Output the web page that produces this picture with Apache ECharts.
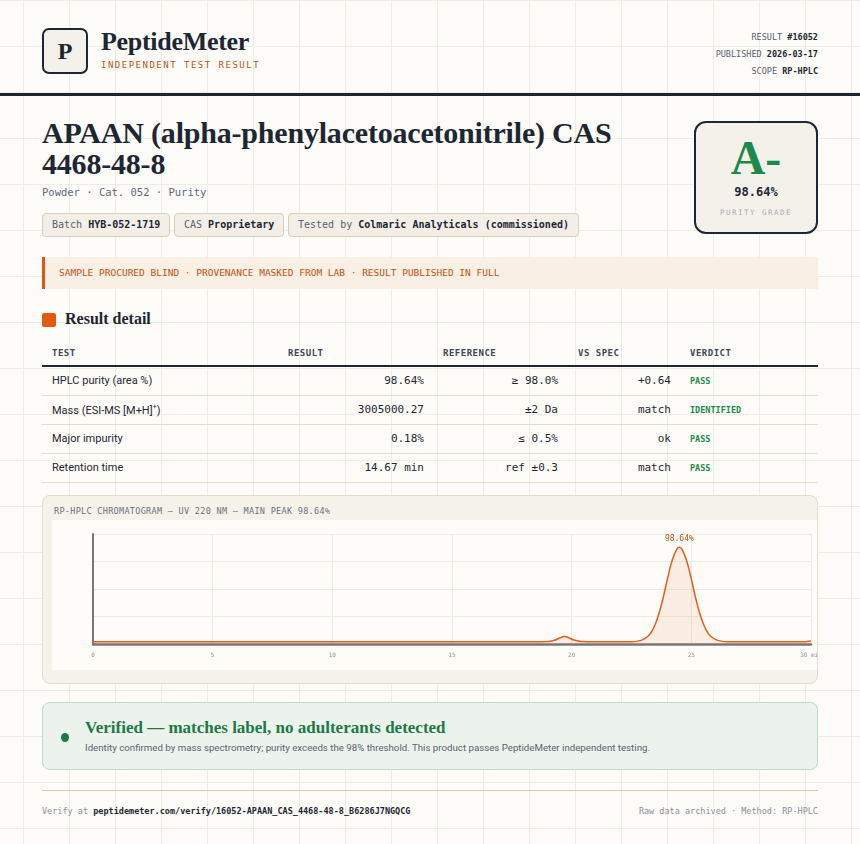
<!DOCTYPE html>
<html><head><meta charset="utf-8">
<script src="https://cdn.jsdelivr.net/npm/echarts@6/dist/echarts.min.js"></script>
<style>
*{box-sizing:border-box;margin:0;padding:0}
body{width:860px;height:844px;position:relative;overflow:hidden;background-color:#fdfcf8;
background-image:linear-gradient(#efece4 1px,transparent 1px),linear-gradient(90deg,#efece4 1px,transparent 1px);background-size:46px 46px;background-position:23px 0;
font-family:Roboto,sans-serif;color:#1d2733}
.abs{position:absolute}
.mono{font-family:"DejaVu Sans Mono","Liberation Mono",monospace}
.serif{font-family:"Liberation Serif","DejaVu Serif",serif}
.logo{left:42px;top:28px;width:46px;height:46px;border:2px solid #1d2733;border-radius:7px;background:#f4f1ea;font:bold 24px "Liberation Serif",serif;display:flex;align-items:center;justify-content:center}
.chip{position:absolute;top:213px;height:24px;border:1px solid #d6cfbf;border-radius:4px;background:#f3efe6;font-size:10px;line-height:22px;padding:0 9px;color:#5a6270}
.chip b{color:#1d2733}
table{position:absolute;left:42px;top:340px;width:776px;border-collapse:collapse;font-size:11px;table-layout:fixed}
th{font:bold 9px "DejaVu Sans Mono",monospace;color:#3c4656;text-align:left;height:26px;border-bottom:2px solid #1d2733;letter-spacing:.5px}
td{height:29px;border-bottom:1px solid #e3ddd0}
td.n{text-align:right;font-family:"DejaVu Sans Mono",monospace;font-size:11px}
td.v{font:bold 8.5px "DejaVu Sans Mono",monospace;color:#1e8a4a}
</style></head><body>
<div class="abs logo">P</div>
<div class="abs serif" style="left:101px;top:27px;font-size:26px;font-weight:bold;letter-spacing:-.3px">PeptideMeter</div>
<div class="abs mono" style="left:101px;top:60px;font-size:9px;color:#c0530e;letter-spacing:1.5px">INDEPENDENT TEST RESULT</div>
<div class="abs mono" style="right:42px;top:29px;font-size:8.5px;color:#5a6270;text-align:right;line-height:17px">RESULT <b style="color:#1d2733">#16052</b><br>PUBLISHED <b style="color:#1d2733">2026-03-17</b><br>SCOPE <b style="color:#1d2733">RP-HPLC</b></div>
<div class="abs" style="left:0;top:93px;width:860px;height:3px;background:#1d2733"></div>
<div class="abs serif" style="left:42px;top:117px;font-size:30px;font-weight:bold;line-height:31px;width:610px;letter-spacing:-.2px">APAAN (alpha-phenylacetoacetonitrile) CAS 4468-48-8</div>
<div class="abs mono" style="left:42px;top:186px;font-size:10.5px;color:#5a6a7e">Powder · Cat. 052 · Purity</div>
<div class="chip mono" style="left:42px">Batch <b>HYB-052-1719</b></div>
<div class="chip mono" style="left:174px">CAS <b>Proprietary</b></div>
<div class="chip mono" style="left:288px">Tested by <b>Colmaric Analyticals (commissioned)</b></div>
<div class="abs" style="left:694px;top:121px;width:124px;height:113px;border:2px solid #1d2733;border-radius:12px;background:#f4f1ea;text-align:center">
 <div class="serif" style="font-size:48px;font-weight:bold;color:#1e8a4a;line-height:50px;margin-top:10px">A-</div>
 <div class="mono" style="font-size:12px;font-weight:bold;margin-top:2px">98.64%</div>
 <div class="mono" style="font-size:7.5px;color:#a6adb5;letter-spacing:1.5px;margin-top:9px">PURITY GRADE</div>
</div>
<div class="abs mono" style="left:42px;top:257px;width:776px;height:32px;background:#faefe4;border-left:3px solid #d55a14;font-size:9.5px;color:#c0530e;line-height:32px;padding-left:14px">SAMPLE PROCURED BLIND · PROVENANCE MASKED FROM LAB · RESULT PUBLISHED IN FULL</div>
<div class="abs" style="left:42px;top:313px;width:14px;height:14px;background:#e05d10;border-radius:2px"></div>
<div class="abs serif" style="left:65px;top:310px;font-size:16px;font-weight:bold">Result detail</div>
<table>
<colgroup><col style="width:246px"><col style="width:155px"><col style="width:135px"><col style="width:112px"><col></colgroup>
<tr><th style="padding-left:10px">TEST</th><th>RESULT</th><th>REFERENCE</th><th>VS SPEC</th><th>VERDICT</th></tr>
<tr><td style="padding-left:10px">HPLC purity (area %)</td><td class="n" style="padding-right:19px">98.64%</td><td class="n" style="padding-right:20px">≥ 98.0%</td><td class="n" style="padding-right:19px">+0.64</td><td class="v">PASS</td></tr>
<tr><td style="padding-left:10px">Mass (ESI-MS [M+H]<sup style="font-size:7px">+</sup>)</td><td class="n" style="padding-right:19px">3005000.27</td><td class="n" style="padding-right:20px">±2 Da</td><td class="n" style="padding-right:19px">match</td><td class="v">IDENTIFIED</td></tr>
<tr><td style="padding-left:10px">Major impurity</td><td class="n" style="padding-right:19px">0.18%</td><td class="n" style="padding-right:20px">≤ 0.5%</td><td class="n" style="padding-right:19px">ok</td><td class="v">PASS</td></tr>
<tr><td style="padding-left:10px">Retention time</td><td class="n" style="padding-right:19px">14.67 min</td><td class="n" style="padding-right:20px">ref ±0.3</td><td class="n" style="padding-right:19px">match</td><td class="v">PASS</td></tr>
</table>
<div class="abs" style="left:42px;top:495px;width:776px;height:189px;background:#f5f2ea;border:1px solid #e3ddd0;border-radius:8px;overflow:hidden">
 <div class="mono abs" style="left:11px;top:10px;font-size:8.5px;color:#6a7280;letter-spacing:.3px">RP-HPLC CHROMATOGRAM — UV 220 NM — MAIN PEAK 98.64%</div>
 <div id="chart" class="abs" style="left:9px;top:24px;width:767px;height:150px;background:#fdfcf8"></div>
</div>
<div class="abs" style="left:42px;top:702px;width:776px;height:68px;background:#ecf3ec;border:1px solid #b9dcc3;border-radius:8px">
 <div class="abs" style="left:18px;top:30px;width:8px;height:9px;border-radius:50%;background:#1e7a45"></div>
 <div class="abs serif" style="left:42px;top:15px;font-size:17px;font-weight:bold;color:#1e7a45">Verified — matches label, no adulterants detected</div>
 <div class="abs" style="left:42px;top:39px;font-size:9.7px;color:#5a6270">Identity confirmed by mass spectrometry; purity exceeds the 98% threshold. This product passes PeptideMeter independent testing.</div>
</div>
<div class="abs" style="left:42px;top:790px;width:776px;height:1px;background:#d6c9ad"></div>
<div class="abs mono" style="left:42px;top:806px;font-size:8.5px;color:#8a909a">Verify at <b style="color:#1d2733">peptidemeter.com/verify/16052-APAAN_CAS_4468-48-8_B6286J7NGQCG</b></div>
<div class="abs mono" style="right:42px;top:806px;font-size:8.5px;color:#8a909a">Raw data archived · Method: RP-HPLC</div>
<script>
const timeMin=[0,5,10,15,18.5,19,19.3,19.5,19.7,19.9,20.1,20.4,21,22,22.5,22.9,23.2,23.4,23.6,23.8,24.0,24.2,24.4,24.5,24.6,24.8,25.0,25.2,25.4,25.6,25.8,26.1,26.5,27,28,29.5,30];
const absorbance=[2,2,2,2,2,2.3,3.6,5.5,6.8,5.5,3.6,2.3,2,2,2,3.3,7.2,13.6,24.5,40,59,76,86.5,88,86.5,76,59,40,24.5,13.6,7.2,3.3,2,2,2,2,2.8];
const peakLabel='98.64%';
const peakIdx=absorbance.indexOf(Math.max(...absorbance));
const c=echarts.init(document.getElementById('chart'));
c.setOption({animation:false,
grid:{left:41,right:8,top:14,bottom:26,outerBoundsMode:'none',containLabel:false},
xAxis:{type:'value',min:0,max:30,interval:5,
 axisLine:{lineStyle:{color:'#777',width:2.5}},axisTick:{show:false},
 axisLabel:{fontSize:6,color:'#8a909a',fontFamily:'DejaVu Sans Mono',formatter:v=>v===30?'30 min':v,margin:8},
 splitLine:{show:true,lineStyle:{color:'#efebe2'}}},
yAxis:{type:'value',min:0,max:100,interval:25,axisLabel:{show:false},axisTick:{show:false},
 axisLine:{show:true,lineStyle:{color:'#777',width:2}},splitLine:{lineStyle:{color:'#efebe2'}}},
series:[{type:'line',data:timeMin.map((t,i)=>[t,absorbance[i]]),smooth:true,symbol:'none',
 lineStyle:{color:'#e0601a',width:1.5},areaStyle:{color:'rgba(224,96,26,0.12)'},
 markPoint:{symbol:'circle',symbolSize:1,itemStyle:{color:'transparent'},
  label:{show:true,position:'top',distance:4,formatter:peakLabel,color:'#c0530e',fontSize:8,fontFamily:'DejaVu Sans Mono'},
  data:[{coord:[timeMin[peakIdx],absorbance[peakIdx]]}]}}]});
</script>
</body></html>
